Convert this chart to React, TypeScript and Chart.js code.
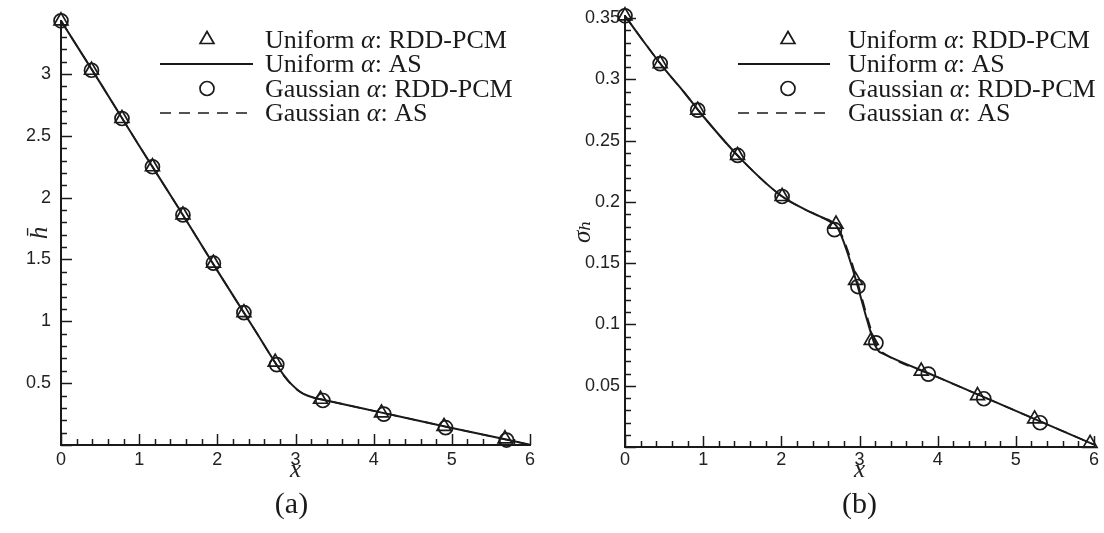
import React, { useEffect, useRef } from 'react';
import { Chart, registerables } from 'chart.js';

Chart.register(...registerables);

// ---------- Panel (a): mean h ----------
const hUniformPcmX = [0, 0.39, 0.78, 1.17, 1.56, 1.95, 2.34, 2.74, 3.32, 4.1, 4.9, 5.68];
const hUniformPcmY = [3.43, 3.03, 2.64, 2.25, 1.86, 1.47, 1.07, 0.67, 0.37, 0.26, 0.15, 0.05];
const hGaussPcmX = [0, 0.39, 0.78, 1.17, 1.56, 1.95, 2.34, 2.76, 3.35, 4.13, 4.92, 5.7];
const hGaussPcmY = [3.43, 3.03, 2.64, 2.25, 1.86, 1.47, 1.07, 0.65, 0.36, 0.25, 0.14, 0.04];
const hAsX = [0, 0.5, 1, 1.5, 2, 2.5, 2.75, 2.85, 2.95, 3.05, 3.15, 3.25, 3.35, 4, 5, 6];
const hUniformAsY = [3.43, 2.93, 2.42, 1.92, 1.41, 0.91, 0.657, 0.565, 0.49, 0.435, 0.4, 0.38, 0.366, 0.276, 0.138, 0.003];
const hGaussAsY = [3.43, 2.93, 2.42, 1.92, 1.41, 0.91, 0.655, 0.56, 0.486, 0.432, 0.398, 0.379, 0.366, 0.276, 0.138, 0.002];

// ---------- Panel (b): sigma_h ----------
const sUniformPcmX = [0, 0.45, 0.93, 1.44, 2.01, 2.7, 2.95, 3.15, 3.79, 4.51, 5.24, 5.95];
const sUniformPcmY = [0.352, 0.313, 0.275, 0.238, 0.2045, 0.182, 0.136, 0.087, 0.062, 0.042, 0.023, 0.003];
const sGaussPcmX = [0, 0.45, 0.93, 1.44, 2.01, 2.68, 2.98, 3.21, 3.88, 4.59, 5.31];
const sGaussPcmY = [0.352, 0.313, 0.275, 0.238, 0.2045, 0.1774, 0.131, 0.085, 0.0595, 0.0394, 0.0198];
const sAsX = [0, 0.25, 0.5, 0.75, 1, 1.5, 2, 2.3, 2.5, 2.7, 2.75, 2.8, 2.9, 3, 3.1, 3.2, 3.25, 3.3, 4, 5, 6];
const sUniformAsY = [0.352, 0.33, 0.309, 0.29, 0.27, 0.234, 0.205, 0.194, 0.188, 0.181, 0.175, 0.167, 0.148, 0.126, 0.103, 0.083, 0.078, 0.0762, 0.057, 0.0295, 0.002];
const sGaussAsY = [0.352, 0.33, 0.309, 0.29, 0.27, 0.234, 0.205, 0.194, 0.188, 0.18, 0.176, 0.169, 0.151, 0.129, 0.106, 0.086, 0.08, 0.077, 0.057, 0.0295, 0.002];

const xTickLabels = ['0', '1', '2', '3', '4', '5', '6'];
const legendLabels = ['Uniform α: RDD-PCM', 'Uniform α: AS', 'Gaussian α: RDD-PCM', 'Gaussian α: AS'];
const captions = ['(a)', '(b)'];
const yTitles = ['h\u0304', 'σ\u2095'];
const xTitle = 'x';

const INK = '#1a1a1a';
const SERIF = '"Liberation Serif", "DejaVu Serif", serif';
const SANS = '"Liberation Sans", Arial, sans-serif';

const TRI_R = 8;
const CIRC_R = 7;

const zip = (xs: number[], ys: number[]) => xs.map((x, i) => ({ x, y: ys[i] }));

const innerTicks = {
  id: 'innerTicks',
  afterDraw(chart: any, _args: any, opts: any) {
    const { ctx, chartArea } = chart;
    const sx = chart.scales.x;
    const sy = chart.scales.y;
    ctx.save();
    ctx.strokeStyle = INK;
    ctx.lineWidth = 1.5;
    const run = (scale: any, minor: number, major: number, horiz: boolean) => {
      const k0 = Math.ceil(scale.min / minor - 1e-9);
      const k1 = Math.floor(scale.max / minor + 1e-9);
      for (let k = k0; k <= k1; k++) {
        const v = k * minor;
        const r = v / major;
        const isMajor = Math.abs(r - Math.round(r)) < 1e-6;
        const len = isMajor ? 11 : 6;
        const p = Math.round(scale.getPixelForValue(v)) + 0.5;
        ctx.beginPath();
        if (horiz) {
          ctx.moveTo(p, chartArea.bottom);
          ctx.lineTo(p, chartArea.bottom - len);
        } else {
          ctx.moveTo(chartArea.left, p);
          ctx.lineTo(chartArea.left + len, p);
        }
        ctx.stroke();
      }
    };
    run(sx, opts.xMinor, opts.xMajor, true);
    run(sy, opts.yMinor, opts.yMajor, false);
    ctx.restore();
  },
};

const panelDecor = {
  id: 'panelDecor',
  afterDraw(chart: any, _args: any, opts: any) {
    const { ctx, chartArea } = chart;
    const lg = opts.legend;
    const ds = chart.data.datasets;
    ctx.save();
    ctx.strokeStyle = INK;
    ctx.fillStyle = INK;
    ds.forEach((d: any, i: number) => {
      const mid = lg.rows[i];
      ctx.save();
      ctx.lineWidth = d.showLine ? d.borderWidth : d.pointBorderWidth;
      if (d.showLine) {
        ctx.setLineDash(d.borderDash || []);
        ctx.beginPath();
        ctx.moveTo(lg.lineX1, mid);
        ctx.lineTo(lg.lineX2, mid);
        ctx.stroke();
      } else if (d.pointStyle === 'triangle') {
        const r = d.pointRadius;
        const cx = lg.markerX;
        ctx.beginPath();
        ctx.moveTo(cx, mid - r);
        ctx.lineTo(cx + r * Math.sin(Math.PI / 3), mid + r / 2);
        ctx.lineTo(cx - r * Math.sin(Math.PI / 3), mid + r / 2);
        ctx.closePath();
        ctx.stroke();
      } else {
        ctx.beginPath();
        ctx.arc(lg.markerX, mid, d.pointRadius, 0, Math.PI * 2);
        ctx.stroke();
      }
      ctx.restore();
      const parts = String(d.label).split('α');
      let x = lg.textX;
      const base = mid + 8;
      ctx.textBaseline = 'alphabetic';
      ctx.textAlign = 'left';
      parts.forEach((part: string, j: number) => {
        ctx.font = `${lg.size}px ${SERIF}`;
        ctx.fillText(part, x, base);
        x += ctx.measureText(part).width;
        if (j < parts.length - 1) {
          ctx.font = `italic ${lg.size}px ${SERIF}`;
          ctx.fillText('α', x, base);
          x += ctx.measureText('α').width;
        }
      });
    });
    ctx.font = `30px ${SERIF}`;
    ctx.textAlign = 'center';
    ctx.textBaseline = 'middle';
    ctx.fillText(opts.caption, (chartArea.left + chartArea.right) / 2 + opts.captionDx, opts.captionY);
    ctx.restore();
  },
};

Chart.register(innerTicks, panelDecor);

type PanelCfg = {
  left: number;
  padTop: number;
  padRight: number;
  yAxisW: number;
  xAxisH: number;
  yMax: number;
  yStep: number;
  yMinor: number;
  yTickPad: number;
  xTickPad: number;
  yTitlePad: number;
  yTitle: string;
  caption: string;
  captionDx: number;
  legend: any;
  uPcm: { x: number; y: number }[];
  gPcm: { x: number; y: number }[];
  uAs: { x: number; y: number }[];
  gAs: { x: number; y: number }[];
};

function buildConfig(p: PanelCfg): any {
  const tickFont = { family: SANS, size: 18 };
  return {
    type: 'scatter',
    data: {
      datasets: [
        {
          label: legendLabels[0],
          data: p.uPcm,
          showLine: false,
          pointStyle: 'triangle',
          pointRadius: TRI_R,
          pointBorderWidth: 1.7,
          pointBorderColor: INK,
          pointBackgroundColor: 'rgba(0,0,0,0)',
          clip: false,
        },
        {
          label: legendLabels[1],
          data: p.uAs,
          showLine: true,
          pointRadius: 0,
          borderColor: INK,
          borderWidth: 2,
          cubicInterpolationMode: 'monotone',
          clip: false,
        },
        {
          label: legendLabels[2],
          data: p.gPcm,
          showLine: false,
          pointStyle: 'circle',
          pointRadius: CIRC_R,
          pointBorderWidth: 1.7,
          pointBorderColor: INK,
          pointBackgroundColor: 'rgba(0,0,0,0)',
          clip: false,
        },
        {
          label: legendLabels[3],
          data: p.gAs,
          showLine: true,
          pointRadius: 0,
          borderColor: INK,
          borderWidth: 1.6,
          borderDash: [11, 8],
          cubicInterpolationMode: 'monotone',
          clip: false,
        },
      ],
    },
    options: {
      responsive: false,
      animation: false,
      devicePixelRatio: 1,
      layout: { padding: { top: p.padTop, right: p.padRight, left: 0, bottom: 0 } },
      plugins: {
        legend: { display: false },
        tooltip: { enabled: false },
        innerTicks: { xMinor: 0.2, xMajor: 1, yMinor: p.yMinor, yMajor: p.yStep },
        panelDecor: {
          caption: p.caption,
          captionDx: p.captionDx,
          captionY: 505,
          legend: p.legend,
        },
      },
      scales: {
        x: {
          type: 'linear',
          min: 0,
          max: 6,
          grid: { display: false, drawTicks: false, tickLength: 0 },
          border: { display: true, color: INK, width: 2 },
          ticks: {
            stepSize: 1,
            includeBounds: false,
            autoSkip: false,
            maxRotation: 0,
            padding: p.xTickPad,
            color: '#222',
            font: tickFont,
            callback: (v: number) => xTickLabels[Math.round(v)] ?? '',
          },
          title: {
            display: true,
            text: xTitle,
            color: '#222',
            font: { family: SERIF, size: 25, style: 'italic' },
            padding: { top: 0, bottom: 48 },
          },
          afterFit: (s: any) => {
            s.height = p.xAxisH;
          },
        },
        y: {
          type: 'linear',
          min: 0,
          max: p.yMax,
          grid: { display: false, drawTicks: false, tickLength: 0 },
          border: { display: true, color: INK, width: 2 },
          ticks: {
            stepSize: p.yStep,
            includeBounds: false,
            autoSkip: false,
            padding: p.yTickPad,
            color: '#222',
            font: tickFont,
            callback: (v: number) => {
              if (Math.abs(v) < 1e-9) return '';
              return String(parseFloat(v.toFixed(4)));
            },
          },
          title: {
            display: true,
            text: p.yTitle,
            color: '#222',
            font: { family: SERIF, size: 25, style: 'italic' },
            padding: { top: p.yTitlePad, bottom: 0 },
          },
          afterFit: (s: any) => {
            s.width = p.yAxisW;
          },
        },
      },
    },
  };
}

const rows = [39.5, 64, 88.5, 113];

const panels: PanelCfg[] = [
  {
    left: 0,
    padTop: 16,
    padRight: 22,
    yAxisW: 61,
    xAxisH: 88,
    yMax: 3.43,
    yStep: 0.5,
    yMinor: 0.1,
    yTickPad: 10,
    xTickPad: 4,
    yTitlePad: 25,
    yTitle: yTitles[0],
    caption: captions[0],
    captionDx: -4,
    legend: { markerX: 207, lineX1: 160, lineX2: 253, textX: 265, rows, size: 26 },
    uPcm: zip(hUniformPcmX, hUniformPcmY),
    gPcm: zip(hGaussPcmX, hGaussPcmY),
    uAs: zip(hAsX, hUniformAsY),
    gAs: zip(hAsX, hGaussAsY),
  },
  {
    left: 552,
    padTop: 15,
    padRight: 10,
    yAxisW: 73,
    xAxisH: 86,
    yMax: 0.352,
    yStep: 0.05,
    yMinor: 0.01,
    yTickPad: 5,
    xTickPad: 2,
    yTitlePad: 16,
    yTitle: yTitles[1],
    caption: captions[1],
    captionDx: 0,
    legend: { markerX: 236, lineX1: 186, lineX2: 278, textX: 296, rows, size: 26 },
    uPcm: zip(sUniformPcmX, sUniformPcmY),
    gPcm: zip(sGaussPcmX, sGaussPcmY),
    uAs: zip(sAsX, sUniformAsY),
    gAs: zip(sAsX, sGaussAsY),
  },
];

function Panel({ cfg }: { cfg: PanelCfg }) {
  const ref = useRef<HTMLCanvasElement>(null);
  useEffect(() => {
    const chart = new Chart(ref.current as HTMLCanvasElement, buildConfig(cfg));
    return () => chart.destroy();
  }, [cfg]);
  return (
    <canvas
      ref={ref}
      width={552}
      height={533}
      style={{ position: 'absolute', left: cfg.left, top: 0, width: 552, height: 533 }}
    />
  );
}

export default function App() {
  return (
    <div style={{ position: 'absolute', left: 0, top: 0, width: 1104, height: 533, background: '#fff', overflow: 'hidden' }}>
      {panels.map((p, i) => (
        <Panel key={i} cfg={p} />
      ))}
    </div>
  );
}
